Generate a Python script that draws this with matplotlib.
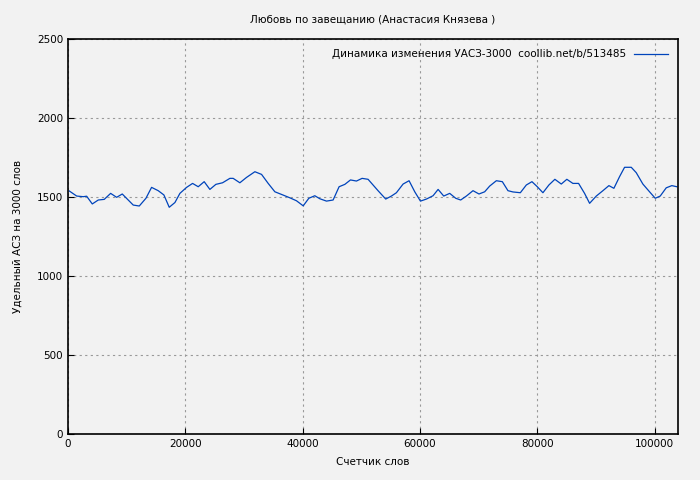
import matplotlib
matplotlib.use('Agg')
import matplotlib.pyplot as plt

words = [220, 1480, 2600, 3180, 4140, 5160, 6180, 7270, 8290, 9250, 11120, 12150,
         13290, 14250, 15380, 16350, 17260, 18230, 19080, 20220, 21240, 22200, 23220,
         24190, 25210, 26350, 27600, 28160, 29300, 30440, 31860, 33000, 34130, 35270,
         36690, 37820, 38960, 40100, 41060, 42080, 42930, 44070, 45200, 46220, 47200,
         48160, 49180, 50140, 51160, 52860, 54170, 55140, 55990, 57130, 58150, 59120,
         60090, 61110, 62240, 63100, 64060, 65080, 66100, 66950, 67920, 69050, 70070,
         71040, 71890, 73030, 74050, 75010, 75860, 77120, 78140, 79100, 80010, 80970,
         81990, 83010, 84100, 85050, 86080, 87050, 88070, 88930, 90070, 91200, 92220,
         93070, 94040, 94890, 96030, 96880, 98010, 99150, 100120, 100970, 101990,
         102950, 103800]
usaz = [1538, 1506, 1502, 1505, 1456, 1481, 1485, 1523, 1498, 1519, 1449, 1443,
        1492, 1561, 1540, 1513, 1435, 1465, 1523, 1561, 1586, 1565, 1597, 1548, 1580,
        1590, 1618, 1618, 1590, 1624, 1660, 1643, 1586, 1533, 1512, 1495, 1476, 1444,
        1492, 1508, 1489, 1474, 1481, 1565, 1580, 1608, 1601, 1618, 1612, 1540, 1487,
        1506, 1527, 1582, 1603, 1533, 1474, 1487, 1508, 1548, 1506, 1523, 1492, 1481,
        1506, 1540, 1519, 1533, 1569, 1603, 1597, 1540, 1532, 1527, 1576, 1597, 1565,
        1527, 1576, 1612, 1582, 1612, 1586, 1586, 1523, 1460, 1506, 1540, 1572, 1555,
        1629, 1688, 1688, 1654, 1582, 1533, 1492, 1506, 1558, 1572, 1565]

bg = '#f2f2f2'
fs = 7.5
fig = plt.figure(figsize=(7, 4.8), dpi=100, facecolor=bg)
ax = fig.add_axes([68/700, 1-434/480, 610/700, 395/480], facecolor=bg)
ax.plot(words, usaz, color='#0044bb', lw=0.9,
        label='Динамика изменения УАСЗ-3000  coollib.net/b/513485')
ax.set_xlim(0, 104000)
ax.set_ylim(0, 2500)
ax.set_xticks([0, 20000, 40000, 60000, 80000, 100000])
ax.set_yticks([0, 500, 1000, 1500, 2000, 2500])
ax.grid(True, color='#999999', linestyle=(0, (2, 3)), lw=0.8)
ax.tick_params(direction='in', labelsize=fs, length=4)
for s in ax.spines.values():
    s.set_linewidth(1.2)
ax.set_title('Любовь по завещанию (Анастасия Князева )', fontsize=fs, pad=12)
ax.set_xlabel('Счетчик слов', fontsize=fs, labelpad=6)
ax.set_ylabel('Удельный АСЗ на 3000 слов', fontsize=fs, labelpad=10)
leg = ax.legend(loc='upper right', fontsize=fs, frameon=False, markerfirst=False,
                handlelength=3.2, borderaxespad=0.6)
fig.savefig('out.png', dpi=100, facecolor=bg)
